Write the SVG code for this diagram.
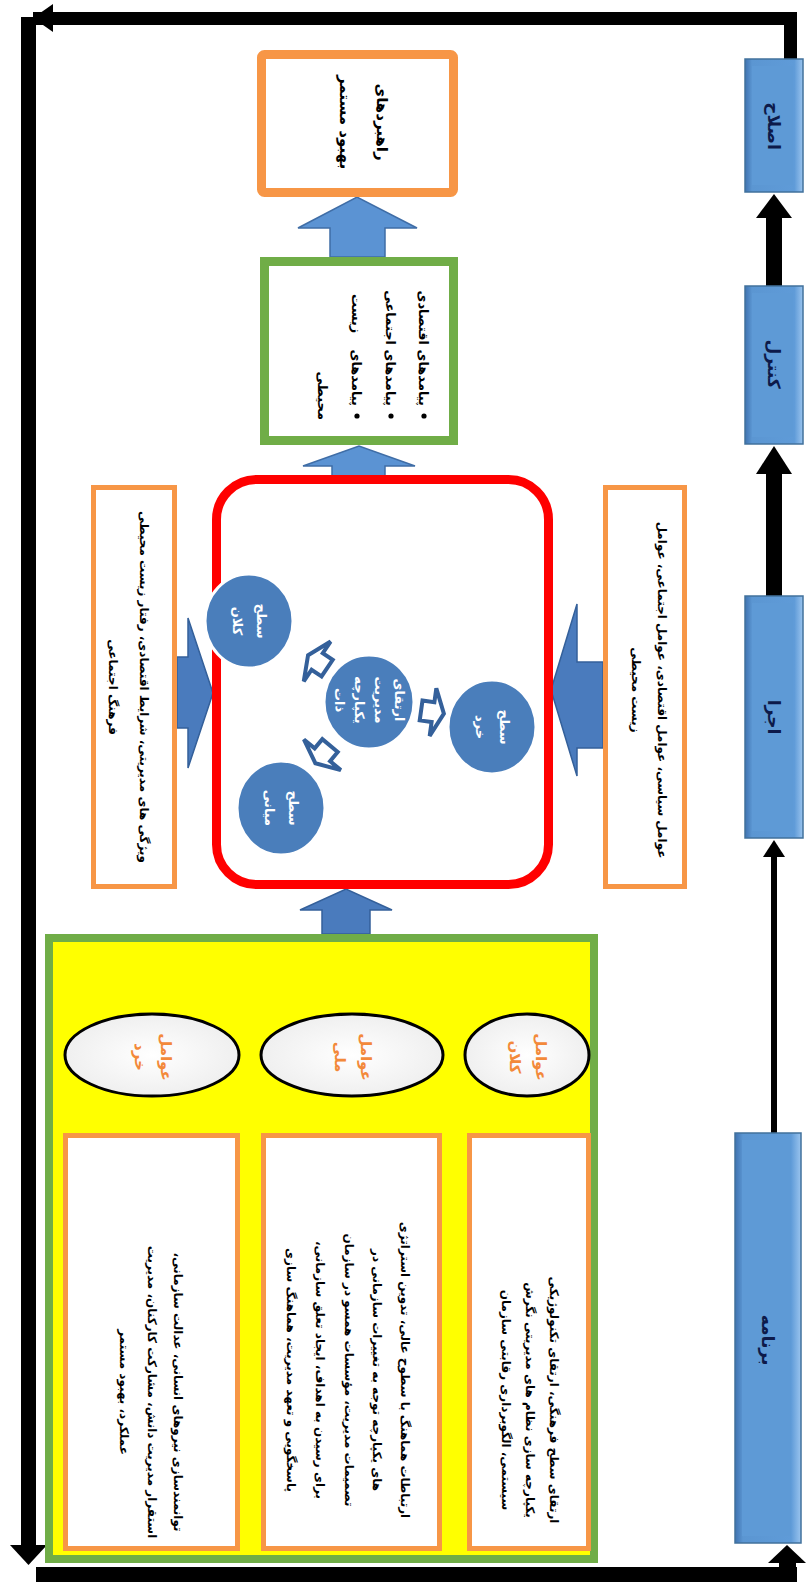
<svg xmlns="http://www.w3.org/2000/svg" width="811" height="1584" viewBox="0 0 811 1584">
<style>
.fa{font-family:"DejaVu Sans",sans-serif;font-weight:bold;direction:rtl;unicode-bidi:embed;dominant-baseline:central}
.c{text-anchor:middle}
.s{text-anchor:start}
.e{text-anchor:end}
.blk{fill:#000}
.bigarrow{fill:#5b93d3;stroke:#3f6da6;stroke-width:1.5}
.darkarrow{fill:#4a7bbd;stroke:#34609a;stroke-width:1.5}
.small{fill:#fff;stroke:#34609a;stroke-width:4;stroke-linejoin:miter}
.blue{fill:url(#bev);stroke:#41719c;stroke-width:1.5}
.inner{fill:#5e9ad6}
.lbl{fill:#0d1a4a;font-size:17px}
.box{fill:#fff;stroke:#f79646;stroke-width:5}
.circ{fill:#4a7ebb;stroke:#fff;stroke-width:3}
.ctext{fill:#fff;font-size:13px}
.ell{fill:url(#ellg);stroke:#000;stroke-width:3}
.etext{fill:#f3893a;font-size:15px}
.btext{fill:#000;font-size:12px}
</style>
<defs>
<linearGradient id="bev" x1="0" y1="0" x2="1" y2="0">
<stop offset="0" stop-color="#3f72b0"/>
<stop offset="0.12" stop-color="#5b96d2"/>
<stop offset="0.85" stop-color="#5f9bd8"/>
<stop offset="1" stop-color="#9ac4ee"/>
</linearGradient>
<radialGradient id="ellg" cx="0.5" cy="0.5" r="0.6">
<stop offset="0" stop-color="#ffffff"/>
<stop offset="1" stop-color="#ececec"/>
</radialGradient>
</defs>
<rect width="811" height="1584" fill="#fff"/>

<g id="connectors">
<rect class="blk" x="33" y="12" width="764" height="13"/>
<rect class="blk" x="784" y="12" width="13" height="47"/>
<polygon class="blk" points="33,18 53,4 53,32"/>
<rect class="blk" x="21" y="17" width="15" height="1530"/>
<polygon class="blk" points="10,1545 47,1545 28.5,1565"/>
<rect class="blk" x="36" y="1567" width="761" height="15"/>
<rect class="blk" x="779" y="1560" width="17" height="10"/>
<polygon class="blk" points="768,1563 806,1563 787,1545"/>
<rect class="blk" x="771" y="854" width="6" height="279"/>
<polygon class="blk" points="763,857 785,857 774,840"/>
<rect class="blk" x="766" y="472" width="16" height="124"/>
<polygon class="blk" points="756,474 792,474 774,446"/>
<rect class="blk" x="766" y="216" width="16" height="70"/>
<polygon class="blk" points="756,218 792,218 774,194"/>
<path class="bigarrow" d="M330,257 V228 H298 L357,197 L417,228 H385 V257 Z"/>
<path class="bigarrow" d="M332,476 V466 H303 L359,446 L415,466 H385 V476 Z"/>
<path class="darkarrow" d="M322,934 V910 H300 L346,889 L392,910 H370 V934 Z"/>
<path class="darkarrow" d="M177,657 H188 V618 L213,693 L188,768 V728 H177 Z"/>
<path class="darkarrow" d="M603,662 H577 V604 L551,690 L577,776 V748 H603 Z"/>
</g>

<g id="red-frame">
<rect x="216.5" y="479.5" width="332" height="405" rx="40" fill="#fff" stroke="#ff0000" stroke-width="9"/>
</g>

<g id="inner-arrows">
<path class="small" transform="translate(432,712) rotate(8)" d="M-11,-10 H1 V-24 L12,0 L1,24 V10 H-11 Z"/>
<path class="small" transform="translate(318,662) rotate(-146)" d="M-11,-10 H1 V-24 L12,0 L1,24 V10 H-11 Z"/>
<path class="small" transform="translate(323,754) rotate(129.7)" d="M-11,-10 H1 V-24 L12,0 L1,24 V10 H-11 Z"/>
</g>

<g id="node-eslah">
<rect class="blue" x="745" y="59" width="58" height="133"/>
<rect class="inner" x="752" y="66" width="41" height="119"/>
<text class="fa c lbl" transform="translate(774 126) rotate(90)">اصلاح</text>
</g>
<g id="node-control">
<rect class="blue" x="745" y="286" width="58" height="158"/>
<rect class="inner" x="752" y="293" width="41" height="144"/>
<text class="fa c lbl" transform="translate(774 364) rotate(90)">کنترل</text>
</g>
<g id="node-ejra">
<rect class="blue" x="745" y="596" width="58" height="242"/>
<rect class="inner" x="752" y="603" width="41" height="228"/>
<text class="fa c lbl" transform="translate(774 717) rotate(90)">اجرا</text>
</g>
<g id="node-barname">
<rect class="blue" x="735" y="1133" width="66" height="410"/>
<rect class="inner" x="742" y="1140" width="49" height="396"/>
<text class="fa c lbl" transform="translate(768 1340) rotate(90)">برنامه</text>
</g>

<g id="node-strategies">
<rect x="261.5" y="54.5" width="192" height="138" rx="3" fill="#fff" stroke="#f79646" stroke-width="9"/>
<text class="fa c" font-size="15" transform="translate(382 122) rotate(90)">راهبردهای</text>
<text class="fa c" font-size="15" transform="translate(345 122) rotate(90)">بهبود مستمر</text>
</g>

<g id="node-outcomes">
<rect x="264.5" y="261.5" width="189" height="179" fill="#fff" stroke="#70ad47" stroke-width="9"/>
<g class="fa" font-size="13">
<text class="s" transform="translate(423 406) rotate(90)">پیامدهای اقتصادی</text>
<text class="s" transform="translate(390 406) rotate(90)">پیامدهای اجتماعی</text>
<text class="s" transform="translate(356 406) rotate(90)">پیامدهای</text>
<text class="e" transform="translate(356 294) rotate(90)">زیست</text>
<text class="s" transform="translate(322 420) rotate(90)">محیطی</text>
</g>
<circle cx="424" cy="416" r="2.6" fill="#000"/>
<circle cx="391" cy="416" r="2.6" fill="#000"/>
<circle cx="357" cy="416" r="2.6" fill="#000"/>
</g>

<g id="node-env-left">
<rect class="box" x="93.5" y="487.5" width="81" height="399"/>
<text class="fa c btext" font-size="12.5" transform="translate(144 687) rotate(90)">ویژگی های مدیریتی، شرایط اقتصادی، رفتار زیست محیطی</text>
<text class="fa c btext" font-size="12.5" transform="translate(113 687) rotate(90)">فرهنگ اجتماعی</text>
</g>

<g id="node-env-right">
<rect class="box" x="605.5" y="487.5" width="79" height="399"/>
<text class="fa c btext" font-size="12.5" transform="translate(662 690) rotate(90)">عوامل سیاسی، عوامل اقتصادی، عوامل اجتماعی، عوامل</text>
<text class="fa c btext" font-size="12.5" transform="translate(636 690) rotate(90)">زیست محیطی</text>
</g>

<g id="node-level-macro">
<ellipse class="circ" cx="249" cy="621" rx="44" ry="47"/>
<text class="fa c ctext" transform="translate(261 621) rotate(90)">سطح</text>
<text class="fa c ctext" transform="translate(237 621) rotate(90)">کلان</text>
</g>
<g id="node-level-meso">
<ellipse class="circ" cx="281" cy="808" rx="44" ry="47"/>
<text class="fa c ctext" transform="translate(293 808) rotate(90)">سطح</text>
<text class="fa c ctext" transform="translate(269 808) rotate(90)">میانی</text>
</g>
<g id="node-center">
<ellipse class="circ" cx="369" cy="702" rx="45" ry="47"/>
<text class="fa c ctext" font-size="11.5" transform="translate(399 700) rotate(90)">ارتقای</text>
<text class="fa c ctext" font-size="11.5" transform="translate(379 700) rotate(90)">مدیریت</text>
<text class="fa c ctext" font-size="11.5" transform="translate(359 700) rotate(90)">یکپارچه</text>
<text class="fa c ctext" font-size="11.5" transform="translate(339 700) rotate(90)">ذات</text>
</g>
<g id="node-level-micro">
<ellipse class="circ" cx="492" cy="727" rx="44" ry="47"/>
<text class="fa c ctext" transform="translate(504 727) rotate(90)">سطح</text>
<text class="fa c ctext" transform="translate(480 727) rotate(90)">خرد</text>
</g>

<g id="node-factors">
<rect x="49" y="938" width="545" height="621" fill="#ffff00" stroke="#70ad47" stroke-width="8"/>
</g>

<g id="node-factor-micro">
<ellipse class="ell" cx="152" cy="1055" rx="87" ry="41"/>
<text class="fa c etext" transform="translate(166 1057) rotate(90)">عوامل</text>
<text class="fa c etext" transform="translate(140 1057) rotate(90)">خرد</text>
</g>
<g id="node-factor-national">
<ellipse class="ell" cx="352" cy="1055" rx="91" ry="41"/>
<text class="fa c etext" transform="translate(366 1057) rotate(90)">عوامل</text>
<text class="fa c etext" transform="translate(340 1057) rotate(90)">ملی</text>
</g>
<g id="node-factor-macro">
<ellipse class="ell" cx="527" cy="1055" rx="62" ry="41"/>
<text class="fa c etext" transform="translate(541 1057) rotate(90)">عوامل</text>
<text class="fa c etext" transform="translate(515 1057) rotate(90)">کلان</text>
</g>

<g id="node-desc-micro">
<rect class="box" x="65.5" y="1135.5" width="172" height="413"/>
<text class="fa c btext" transform="translate(178 1392) rotate(90)">توانمندسازی نیروهای انسانی، عدالت سازمانی،</text>
<text class="fa c btext" transform="translate(152 1392) rotate(90)">استقرار مدیریت دانش، مشارکت کارکنان، مدیریت</text>
<text class="fa c btext" transform="translate(124 1392) rotate(90)">عملکرد، بهبود مستمر</text>
</g>
<g id="node-desc-national">
<rect class="box" x="263.5" y="1135.5" width="176" height="413"/>
<text class="fa c btext" font-size="12.5" transform="translate(405 1370) rotate(90)">ارتباطات هماهنگ با سطوح عالی، تدوین استراتژی</text>
<text class="fa c btext" font-size="12.5" transform="translate(377 1370) rotate(90)">های یکپارچه توجه به تغییرات سازمانی در</text>
<text class="fa c btext" font-size="12.5" transform="translate(349 1370) rotate(90)">تصمیمات مدیریت، مؤسسات همسو در سازمان</text>
<text class="fa c btext" font-size="12.5" transform="translate(320 1370) rotate(90)">برای رسیدن به اهداف، ایجاد تعلق سازمانی،</text>
<text class="fa c btext" font-size="12.5" transform="translate(291 1370) rotate(90)">پاسخگویی و تعهد مدیریت، هماهنگ سازی</text>
</g>
<g id="node-desc-macro">
<rect class="box" x="469.5" y="1135.5" width="119" height="413"/>
<text class="fa c btext" transform="translate(554 1400) rotate(90)">ارتقای سطح فرهنگی، ارتقای تکنولوژیکی</text>
<text class="fa c btext" transform="translate(530 1400) rotate(90)">یکپارچه سازی نظام های مدیریتی نگرش</text>
<text class="fa c btext" transform="translate(506 1400) rotate(90)">سیستمی، الگوبرداری رقابتی سازمان</text>
</g>
</svg>
